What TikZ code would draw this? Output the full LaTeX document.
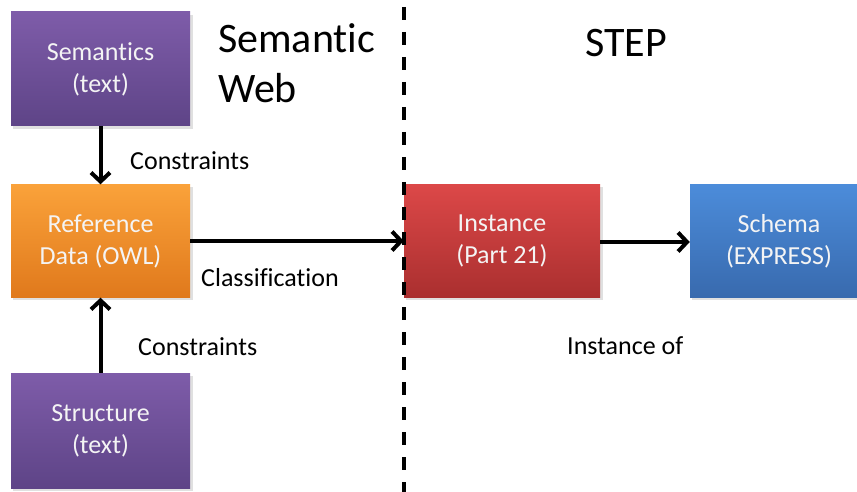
\documentclass[tikz,border=0pt]{standalone}
\usepackage{fontspec}
\setmainfont{Carlito}[Ligatures={NoCommon}]
\usetikzlibrary{arrows.meta}
\definecolor{purpT}{HTML}{7E5CA9}
\definecolor{purpB}{HTML}{5E4487}
\definecolor{oranT}{HTML}{FAA23A}
\definecolor{oranB}{HTML}{E0791C}
\definecolor{redT}{HTML}{DC4848}
\definecolor{redB}{HTML}{AA2F2F}
\definecolor{bluT}{HTML}{4C8CDA}
\definecolor{bluB}{HTML}{386AAE}
\definecolor{boxtext}{HTML}{F4F4F4}
\tikzset{
  blockbox/.style={rectangle, minimum width=179pt, minimum height=114pt, inner sep=0pt,
    align=center, text=boxtext, font=\fontsize{26}{32}\selectfont},
  purplebox/.style={blockbox, top color=purpT, bottom color=purpB},
  orangebox/.style={blockbox, top color=oranT, bottom color=oranB},
  redbox/.style={blockbox, minimum width=196pt, top color=redT, bottom color=redB},
  bluebox/.style={blockbox, minimum width=178pt, top color=bluT, bottom color=bluB},
  shadowbox/.style={fill=black, opacity=0.12},
  conn/.style={line width=4pt, -{Straight Barb[length=9pt,width=19pt,line width=4pt]}},
  lbl/.style={font=\fontsize{26}{32}\selectfont, inner sep=0pt, anchor=base west},
  title/.style={font=\fontsize{42}{50}\selectfont, inner sep=0pt, align=left},
  divider/.style={line width=4pt, dash pattern=on 13pt off 12pt}
}
\begin{document}
\begin{tikzpicture}[x=1pt,y=-1pt]
\useasboundingbox (0,0) rectangle (857,492);
\clip (0,0) rectangle (857,492);
% shadows
\fill[shadowbox] (13,15) rectangle (193,129);
\fill[shadowbox] (13,187) rectangle (193,300);
\fill[shadowbox] (13,376) rectangle (193,491);
\fill[shadowbox] (406,187) rectangle (603,300);
\fill[shadowbox] (692,187) rectangle (870,300);
% boxes
\node[purplebox] (sem) at (100.5,69) {Semantics\\(text)};
\node[orangebox, minimum height=113pt] (ref) at (100.5,241) {Reference\\Data (OWL)};
\node[purplebox, minimum height=115pt] (str) at (100.5,430.5) {Structure\\(text)};
\node[redbox, minimum height=113pt] (inst) at (502,241) {Instance\\(Part 21)};
\node[bluebox, minimum height=113pt] (sch) at (779,241) {Schema\\(EXPRESS)};
% divider
\coordinate (dtop) at (404,7);
\coordinate (dbot) at (404,492);
\draw[divider] (dtop) -- (dbot);
% titles
\node[title, anchor=base west] (tsem) at (218,53) {Semantic};
\node[title, anchor=base west] (tweb) at (218,103) {Web};
\node[title, anchor=base west] (tstep) at (585,57) {STEP};
% connectors
\draw[conn] (sem.south) -- (ref.north);
\draw[conn] (str.north) -- (ref.south);
\draw[conn] (ref.east |- 0,241) -- (inst.west |- 0,241);
\draw[conn] (inst.east |- 0,242) -- (sch.west |- 0,242);
% labels
\node[lbl] (l1) at (130,170) {Constraints};
\node[lbl] (l2) at (201,286) {Classification};
\node[lbl] (l3) at (138,355) {Constraints};
\node[lbl] (l4) at (567,354) {Instance of};
\end{tikzpicture}
\end{document}
